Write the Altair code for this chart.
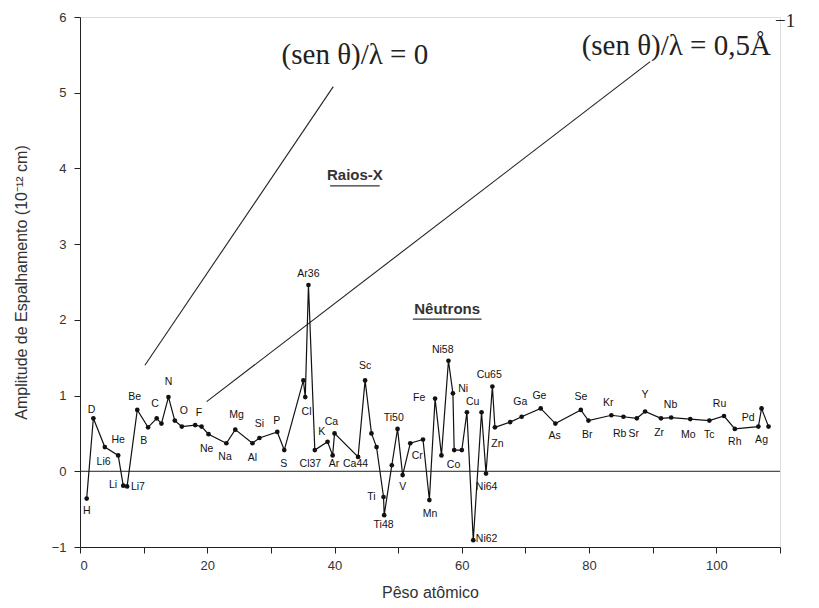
import altair as alt
import pandas as pd

# --- dados ---
peso = [1.05, 2.1, 3.9, 6.0, 6.8, 7.4, 9.0, 10.7, 12.05, 12.8, 13.9, 14.9, 16.0, 18.1, 19.1, 20.2,
        23.0, 24.4, 27.1, 28.2, 31.0, 32.1, 35.1, 35.4, 35.9, 36.9, 38.9, 39.7, 40.0, 43.7,
        44.8, 45.8, 46.6, 47.7, 47.8, 49.0, 49.9, 50.7, 51.9, 53.9, 54.9, 55.8, 56.8, 57.9,
        58.6, 58.8, 60.0, 60.8, 61.8, 63.1, 63.8, 64.8, 65.2, 67.6, 69.4, 72.4, 74.7, 78.7,
        79.9, 83.5, 85.4, 87.5, 88.8, 91.3, 92.9, 95.9, 98.9, 101.2, 102.9, 106.6, 107.1, 108.2]
amplitude = [-0.36, 0.70, 0.32, 0.21, -0.19, -0.20, 0.81, 0.58, 0.70, 0.63, 0.98, 0.67, 0.59, 0.61,
             0.59, 0.49, 0.37, 0.55, 0.37, 0.44, 0.52, 0.28, 1.20, 0.98, 2.46, 0.28, 0.39, 0.21,
             0.50, 0.19, 1.20, 0.50, 0.32, -0.34, -0.58, 0.08, 0.56, -0.05, 0.37, 0.42, -0.38,
             0.96, 0.21, 1.46, 1.03, 0.28, 0.28, 0.78, -0.91, 0.78, -0.03, 1.12, 0.58, 0.65,
             0.72, 0.83, 0.63, 0.81, 0.67, 0.74, 0.72, 0.70, 0.79, 0.70, 0.71, 0.69, 0.67, 0.73,
             0.56, 0.59, 0.83, 0.59]

rotulo = ["H", "D", "He", "Li6", "Li", "Li7", "Be", "B", "C", "N", "O", "F", "Ne", "Na", "Mg",
          "Al", "Si", "P", "S", "Cl", "Cl37", "Ar36", "K", "Ca", "Ar", "Ca44", "Sc", "Ti50",
          "Ti", "Ti48", "V", "Cr", "Mn", "Fe", "Ni58", "Ni", "Co", "Ni62", "Cu", "Ni64", "Cu65",
          "Zn", "Ga", "Ge", "As", "Se", "Br", "Kr", "Rb", "Sr", "Y", "Zr", "Nb", "Mo", "Tc",
          "Ru", "Rh", "Pd", "Ag"]
rotulo_x = [1.05, 1.8, 6.0, 3.7, 5.2, 9.1, 8.6, 10.0, 11.8, 13.9, 16.3, 18.7, 19.9, 22.8, 24.6,
            27.1, 28.2, 30.9, 32.0, 35.6, 36.2, 35.9, 38.0, 39.5, 39.9, 43.3, 44.8, 49.3,
            45.8, 47.7, 50.7, 53.0, 55.0, 53.3, 57.0, 60.2, 58.7, 63.9, 61.7, 63.9, 64.3,
            65.6, 69.2, 72.2, 74.6, 78.7, 79.7, 83.0, 84.8, 87.0, 88.8, 91.0, 92.8, 95.6, 98.9,
            100.5, 102.9, 105.0, 107.1]
rotulo_y = [-0.52, 0.81, 0.41, 0.12, -0.18, -0.21, 0.98, 0.40, 0.89, 1.18, 0.80, 0.77, 0.30,
            0.19, 0.74, 0.18, 0.63, 0.67, 0.10, 0.78, 0.10, 2.60, 0.52, 0.65, 0.10, 0.10, 1.39,
            0.71, -0.34, -0.71, -0.21, 0.20, -0.56, 0.97, 1.60, 1.09, 0.08, -0.89, 0.92, -0.21,
            1.27, 0.36, 0.92, 1.00, 0.46, 0.98, 0.48, 0.90, 0.49, 0.49, 1.01, 0.50, 0.88, 0.48,
            0.48, 0.89, 0.39, 0.70, 0.41]

# retas de (sen θ)/λ para raios-X
retas_nome = ["zero", "zero", "meio", "meio"]
retas_x = [10.2, 39.8, 19.9, 89.6]
retas_y = [1.40, 5.08, 0.92, 5.41]

anot_texto = ["(sen θ)/λ = 0", "(sen θ)/λ = 0,5Å"]
anot_x = [43.2, 93.7]
anot_y = [5.50, 5.62]
expoente_texto = ["−1"]
expoente_x = [110.8]
expoente_y = [5.95]

titulos_texto = ["Raios-X", "Nêutrons"]
titulos_x = [43.2, 57.7]
titulos_y = [3.91, 2.15]
sublinha_x1 = [39.3, 52.3]
sublinha_x2 = [47.1, 63.1]
sublinha_y = [3.77, 2.01]

df = pd.DataFrame({"peso": peso, "amp": amplitude})
df_rot = pd.DataFrame({"t": rotulo, "x": rotulo_x, "y": rotulo_y})
df_ret = pd.DataFrame({"s": retas_nome, "x": retas_x, "y": retas_y})
df_anot = pd.DataFrame({"t": anot_texto, "x": anot_x, "y": anot_y})
df_exp = pd.DataFrame({"t": expoente_texto, "x": expoente_x, "y": expoente_y})
df_tit = pd.DataFrame({"t": titulos_texto, "x": titulos_x, "y": titulos_y,
                       "x1": sublinha_x1, "x2": sublinha_x2, "yl": sublinha_y})
df_zero = pd.DataFrame({"x1": [0], "x2": [110], "y": [0]})

xs = alt.Scale(domain=[0, 110], nice=False)
ys = alt.Scale(domain=[-1, 6], nice=False)

x_ax = alt.Axis(values=list(range(0, 111, 10)), labelExpr="datum.value % 20 == 0 ? datum.label : ''",
                grid=False, title="Pêso atômico", titleFontSize=16, titleFontWeight="normal",
                titlePadding=12, labelFontSize=13, labelPadding=6, tickSize=6, domainColor="#222",
                tickColor="#222", labelColor="#333", titleColor="#333", labelFont="Liberation Sans",
                titleFont="Liberation Sans")
y_ax = alt.Axis(values=[v / 2 for v in range(-2, 13)],
                labelExpr="datum.value % 1 == 0 ? format(datum.value, 'd') : ''",
                grid=False, title="Amplitude de Espalhamento (10⁻¹² cm)", titleFontSize=16,
                titleFontWeight="normal", titlePadding=22, labelFontSize=13, labelPadding=8,
                tickSize=6, domainColor="#222", tickColor="#222", labelColor="#333",
                titleColor="#333", labelFont="Liberation Sans", titleFont="Liberation Sans")

zero = alt.Chart(df_zero).mark_rule(color="#222", strokeWidth=1).encode(
    x=alt.X("x1:Q", scale=xs, axis=x_ax), x2="x2:Q", y=alt.Y("y:Q", scale=ys, axis=y_ax))

linha = alt.Chart(df).mark_line(color="#111", strokeWidth=1.2).encode(
    x=alt.X("peso:Q", scale=xs), y=alt.Y("amp:Q", scale=ys))
pontos = alt.Chart(df).mark_point(filled=True, color="#111", size=22, opacity=1).encode(
    x=alt.X("peso:Q", scale=xs), y=alt.Y("amp:Q", scale=ys))

rot = alt.Chart(df_rot).mark_text(font="Liberation Sans", fontSize=10.5, color="#111").encode(
    x=alt.X("x:Q", scale=xs), y=alt.Y("y:Q", scale=ys), text="t:N")

retas = alt.Chart(df_ret).mark_line(color="#222", strokeWidth=1.1).encode(
    x=alt.X("x:Q", scale=xs), y=alt.Y("y:Q", scale=ys), detail="s:N")

anot = alt.Chart(df_anot).mark_text(font="Liberation Serif", fontSize=29, color="#222").encode(
    x=alt.X("x:Q", scale=xs), y=alt.Y("y:Q", scale=ys), text="t:N")
expo = alt.Chart(df_exp).mark_text(font="Liberation Serif", fontSize=19, color="#222").encode(
    x=alt.X("x:Q", scale=xs), y=alt.Y("y:Q", scale=ys), text="t:N")

tit = alt.Chart(df_tit).mark_text(font="Liberation Sans", fontSize=15, fontWeight="bold",
                                  color="#333").encode(
    x=alt.X("x:Q", scale=xs), y=alt.Y("y:Q", scale=ys), text="t:N")
sub = alt.Chart(df_tit).mark_rule(color="#333", strokeWidth=1.3).encode(
    x=alt.X("x1:Q", scale=xs), x2="x2:Q", y=alt.Y("yl:Q", scale=ys))

chart = alt.layer(zero, retas, linha, pontos, rot, anot, expo, tit, sub).properties(
    width=700, height=530,
    autosize=alt.AutoSizeParams(type="none"),
    padding={"left": 72, "top": 9, "right": 31, "bottom": 53},
).configure_view(stroke=None).configure(background="white")

chart.save("out.html", embed_options={"renderer": "svg", "actions": False})
